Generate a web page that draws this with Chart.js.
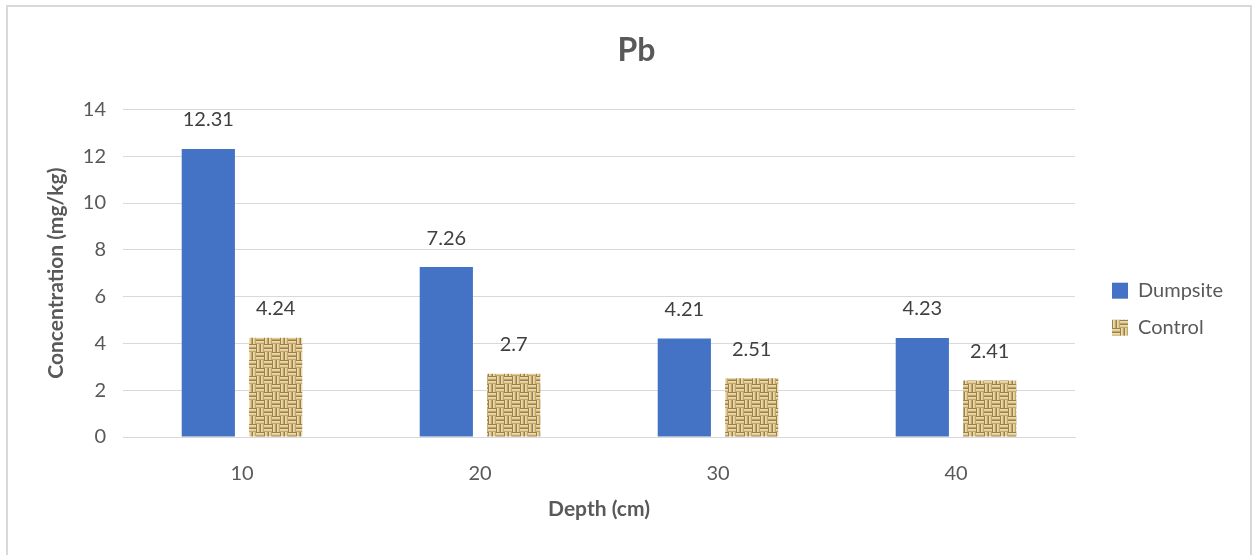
<!DOCTYPE html>
<html>
<head>
<meta charset="utf-8">
<script src="https://cdn.jsdelivr.net/npm/chart.js@4/dist/chart.umd.min.js"></script>
<style>
    body { margin: 0; background: #fff; overflow: hidden; }
    #wrap { position: relative; width: 1253px; height: 555px; }
    #frame {
        position: absolute; left: 6px; top: 5px; width: 1246px; height: 600px;
        border: 2px solid #d9d9d9; box-sizing: border-box; pointer-events: none;
    }
</style>
</head>
<body>
<div id="wrap">
    <canvas id="pbChart"></canvas>
    <div id="frame"></div>
</div>
<script>
const depths = ['10', '20', '30', '40'];
const dumpsite = [12.31, 7.26, 4.21, 4.23];
const control = [4.24, 2.7, 2.51, 2.41];
const yMax = 14;
const yStep = 2;

const textGrey = '#595959';

// burlap-like basket weave for the control bars
function burlap() {
    const c = document.createElement('canvas');
    c.width = 16;
    c.height = 16;
    const g = c.getContext('2d');
    const shades = ['#98804e', '#eddcab', '#e2cc94', '#c2a66b'];
    for (let y = 0; y < 16; y++) {
        for (let x = 0; x < 16; x++) {
            const qx = Math.floor(x / 8), qy = Math.floor(y / 8);
            const horiz = (qx + qy) % 2 === 0;
            const k = horiz ? y % 4 : x % 4;
            g.fillStyle = shades[k];
            g.fillRect(x, y, 1, 1);
        }
    }
    return g.createPattern(c, 'repeat');
}

const valueLabels = {
    id: 'valueLabels',
    afterDatasetsDraw(chart) {
        const ctx = chart.ctx;
        ctx.save();
        ctx.font = '20px Lato';
        ctx.fillStyle = '#404040';
        ctx.textAlign = 'center';
        ctx.textBaseline = 'middle';
        chart.data.datasets.forEach((ds, i) => {
            chart.getDatasetMeta(i).data.forEach((bar, j) => {
                ctx.fillText(String(ds.data[j]), bar.x, bar.y - 29);
            });
        });
        ctx.restore();
    }
};

const pbChart = new Chart(document.getElementById('pbChart'), {
    type: 'bar',
    data: {
        labels: depths,
        datasets: [{
            label: 'Dumpsite',
            data: dumpsite,
            backgroundColor: '#4472c4',
            categoryPercentage: 0.566,
            barPercentage: 0.79
        }, {
            label: 'Control',
            data: control,
            backgroundColor: burlap(),
            categoryPercentage: 0.566,
            barPercentage: 0.79
        }]
    },
    options: {
        responsive: true,
        maintainAspectRatio: false,
        animation: false,
        layout: {
            padding: { left: 40, top: 21, right: 20, bottom: 29 }
        },
        scales: {
            x: {
                grid: { display: false },
                border: { display: true, color: '#d9d9d9', width: 1 },
                ticks: {
                    color: textGrey,
                    padding: 17,
                    font: { family: 'Lato', size: 20 }
                },
                title: {
                    display: true,
                    text: 'Depth (cm)',
                    color: textGrey,
                    padding: { top: 4, bottom: 4 },
                    font: { family: 'Lato', size: 21, weight: 'bold' }
                },
                afterFit(scale) { scale.height = 89; }
            },
            y: {
                min: 0,
                max: yMax,
                grid: { color: '#d9d9d9', drawTicks: false },
                border: { display: false },
                ticks: {
                    stepSize: yStep,
                    color: textGrey,
                    padding: 17,
                    font: { family: 'Lato', size: 20 }
                },
                title: {
                    display: true,
                    text: 'Concentration (mg/kg)',
                    color: textGrey,
                    padding: { top: 4, bottom: 4 },
                    font: { family: 'Lato', size: 21, weight: 'bold' }
                },
                afterFit(scale) { scale.width = 83; }
            },
            // empty axis, only keeps a gap before the legend
            gap: {
                axis: 'y',
                position: 'right',
                grid: { display: false },
                border: { display: false },
                ticks: { display: false },
                afterFit(scale) { scale.width = 20; }
            }
        },
        plugins: {
            title: {
                display: true,
                text: 'Pb',
                color: textGrey,
                padding: { top: 10, bottom: 40 },
                font: { family: 'Lato', size: 32, weight: 'bold' }
            },
            legend: {
                position: 'right',
                align: 'center',
                title: { display: true, text: '', padding: { top: 57, bottom: 0 } },
                labels: {
                    boxWidth: 16,
                    boxHeight: 16,
                    padding: 17,
                    color: textGrey,
                    font: { family: 'Lato', size: 20 }
                }
            },
            tooltip: { enabled: false }
        }
    },
    plugins: [valueLabels]
});
</script>
</body>
</html>
